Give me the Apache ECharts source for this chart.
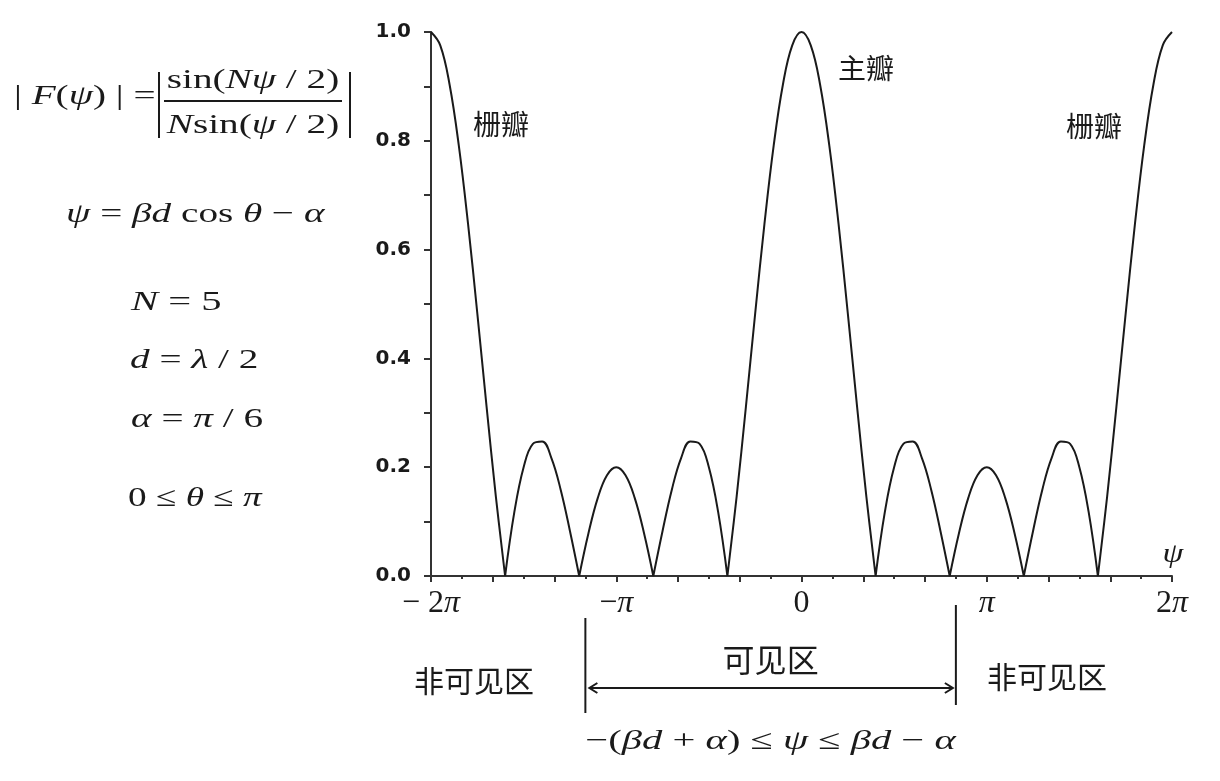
<!DOCTYPE html>
<html>
<head>
<meta charset="utf-8">
<script src="https://cdn.jsdelivr.net/npm/echarts@6/dist/echarts.min.js"></script>
<style>
html,body{margin:0;padding:0;background:#fff;}
#c{width:1220px;height:781px;}
</style>
</head>
<body>
<div id="c"></div>
<script>
// psi in units of pi
const psiPi = [-2.00,-1.95,-1.90,-1.85,-1.80,-1.75,-1.70,-1.65,-1.60,-1.55,-1.50,-1.45,-1.40,-1.35,-1.30,-1.25,-1.20,-1.15,-1.10,-1.05,
  -1.00,-0.95,-0.90,-0.85,-0.80,-0.75,-0.70,-0.65,-0.60,-0.55,-0.50,-0.45,-0.40,-0.35,-0.30,-0.25,-0.20,-0.15,-0.10,-0.05,
  0.00,0.05,0.10,0.15,0.20,0.25,0.30,0.35,0.40,0.45,0.50,0.55,0.60,0.65,0.70,0.75,0.80,0.85,0.90,0.95,
  1.00,1.05,1.10,1.15,1.20,1.25,1.30,1.35,1.40,1.45,1.50,1.55,1.60,1.65,1.70,1.75,1.80,1.85,1.90,1.95,2.00];
const amplitude = [1.0,0.9755,0.9040,0.7915,0.6472,0.4828,0.3115,0.1465,0.0,0.1178,0.2,0.2430,0.2472,0.2167,0.1587,0.0828,0.0,0.0787,0.1432,0.1853,
  0.2,0.1853,0.1432,0.0787,0.0,0.0828,0.1587,0.2167,0.2472,0.2430,0.2,0.1178,0.0,0.1465,0.3115,0.4828,0.6472,0.7915,0.9040,0.9755,
  1.0,0.9755,0.9040,0.7915,0.6472,0.4828,0.3115,0.1465,0.0,0.1178,0.2,0.2430,0.2472,0.2167,0.1587,0.0828,0.0,0.0787,0.1432,0.1853,
  0.2,0.1853,0.1432,0.0787,0.0,0.0828,0.1587,0.2167,0.2472,0.2430,0.2,0.1178,0.0,0.1465,0.3115,0.4828,0.6472,0.7915,0.9040,0.9755,1.0];
const xTickLabels = {'-2':'− 2', '-1':'−', '0':'0', '1':'', '2':'2'};
const visibleStart = -7/6;   // -(beta d + alpha) in pi units
const visibleEnd = 5/6;      // beta d - alpha in pi units

const serif = '"Liberation Serif","DejaVu Serif",serif';
const cjk = '"Noto Sans CJK SC",sans-serif';
const ink = '#1a1a1a';

const chart = echarts.init(document.getElementById('c'));
// break the curve at each null so every lobe is smoothed separately and the nulls stay sharp
const seriesData = [];
psiPi.forEach((x, i) => {
  seriesData.push([x, amplitude[i]]);
  if (amplitude[i] === 0 && i > 0 && i < psiPi.length - 1) {
    seriesData.push('-');
    seriesData.push([x, amplitude[i]]);
  }
});

const rich = {
  n: {fontFamily: serif, fontSize: 28, color: ink},
  i: {fontFamily: serif, fontSize: 28, fontStyle: 'italic', color: ink}
};
const tickRich = {
  n: {fontFamily: serif, fontSize: 32, color: ink},
  i: {fontFamily: serif, fontSize: 32, fontStyle: 'italic', color: ink}
};

chart.setOption({
  backgroundColor: '#fff',
  animation: false,
  grid: {left: 431, right: 48, top: 32, bottom: 205, containLabel: false},
  xAxis: {
    type: 'value', min: -2, max: 2, interval: 1/3,
    splitLine: {show: false},
    axisLine: {onZero: false, lineStyle: {color: '#333', width: 2}},
    axisTick: {show: true, length: 6, lineStyle: {color: '#333', width: 2}},
    minorTick: {show: true, splitNumber: 2, length: 3, lineStyle: {color: '#333', width: 2}},
    axisLabel: {
      margin: 12,
      formatter: function (v) {
        const r = Math.round(v);
        if (Math.abs(v - r) > 1e-6) return '';
        if (r === 0) return '{n|0}';
        return '{n|' + xTickLabels[String(r)] + '}{i|π}';
      },
      rich: tickRich
    }
  },
  yAxis: {
    type: 'value', min: 0, max: 1, interval: 0.2,
    splitLine: {show: false},
    axisLine: {show: true, onZero: false, lineStyle: {color: '#333', width: 2}},
    axisTick: {show: true, length: 7, lineStyle: {color: '#333', width: 2}},
    minorTick: {show: true, splitNumber: 2, length: 7, lineStyle: {color: '#333', width: 2}},
    axisLabel: {
      margin: 20, color: ink, fontFamily: '"DejaVu Sans",sans-serif', fontSize: 20, fontWeight: 'bold',
      formatter: v => v.toFixed(1)
    }
  },
  series: [{
    type: 'line', data: seriesData, symbol: 'none', smooth: 0.4, connectNulls: false,
    lineStyle: {color: ink, width: 2}
  }]
});

const xs = chart.convertToPixel({xAxisIndex: 0}, visibleStart);
const xe = chart.convertToPixel({xAxisIndex: 0}, visibleEnd);
const arrowY = 688;

// math text, horizontally stretched like the reference typesetting
function txt(x, y, text, align, sx) {
  return {
    type: 'text', x: x, y: y, scaleX: sx || 1.4,
    style: {x: 0, y: 0, text: text, rich: rich, font: '28px ' + serif, fill: ink,
      align: align || 'left', verticalAlign: 'middle'}
  };
}
function cjkText(x, y, text, size) {
  return {type: 'text', style: {x: x, y: y, text: text, font: size + 'px ' + cjk, fill: ink,
    align: 'center', verticalAlign: 'middle'}};
}
const lineStyle = {stroke: ink, lineWidth: 2};

chart.setOption({
  graphic: [
    // formula |F(psi)|
    txt(14, 97, '{n|| }{i|F}{n|(}{i|ψ}{n|) | =}'),
    {type: 'line', shape: {x1: 159, y1: 72, x2: 159, y2: 138}, style: lineStyle},
    txt(253, 81, '{n|sin(}{i|Nψ}{n| / 2)}', 'center'),
    {type: 'line', shape: {x1: 164, y1: 101, x2: 342, y2: 101}, style: lineStyle},
    txt(253, 126, '{i|N}{n|sin(}{i|ψ}{n| / 2)}', 'center'),
    {type: 'line', shape: {x1: 350, y1: 72, x2: 350, y2: 138}, style: lineStyle},
    txt(66, 215, '{i|ψ}{n| = }{i|βd}{n| cos }{i|θ}{n| − }{i|α}'),
    txt(131, 303, '{i|N}{n| = 5}', 'left', 1.45),
    txt(130, 361, '{i|d}{n| = }{i|λ}{n| / 2}'),
    txt(131, 420, '{i|α}{n| = }{i|π}{n| / 6}'),
    txt(128, 499, '{n|0 ≤ }{i|θ}{n| ≤ }{i|π}', 'left', 1.33),
    // lobe labels
    cjkText(501, 124, '栅瓣', 28),
    cjkText(866, 68, '主瓣', 28),
    cjkText(1094, 126, '栅瓣', 28),
    // psi axis name
    txt(1173, 555, '{i|ψ}', 'center', 1.2),
    // visible region
    {type: 'line', shape: {x1: xs, y1: 618, x2: xs, y2: 713}, style: lineStyle},
    {type: 'line', shape: {x1: xe, y1: 605, x2: xe, y2: 705}, style: lineStyle},
    {type: 'line', shape: {x1: xs + 4, y1: arrowY, x2: xe - 3, y2: arrowY}, style: lineStyle},
    {type: 'polyline', shape: {points: [[xs + 12, arrowY - 5], [xs + 4, arrowY], [xs + 12, arrowY + 5]]}, style: {stroke: ink, lineWidth: 2, fill: null}},
    {type: 'polyline', shape: {points: [[xe - 11, arrowY - 5], [xe - 3, arrowY], [xe - 11, arrowY + 5]]}, style: {stroke: ink, lineWidth: 2, fill: null}},
    cjkText((xs + xe) / 2, 660, '可见区', 32),
    cjkText(474, 681, '非可见区', 30),
    cjkText(1047, 677, '非可见区', 30),
    txt((xs + xe) / 2, 742, '{n|−(}{i|βd}{n| + }{i|α}{n|) ≤ }{i|ψ}{n| ≤ }{i|βd}{n| − }{i|α}', 'center', 1.45)
  ]
});
</script>
</body>
</html>
